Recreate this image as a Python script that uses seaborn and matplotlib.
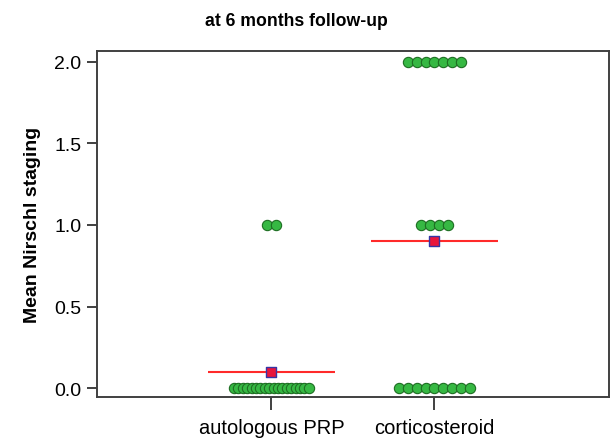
import numpy as np
import pandas as pd
import seaborn as sns
import matplotlib.pyplot as plt

# data: count of patients at each Nirschl stage
groups = ["autologous PRP", "corticosteroid"]
stages = [0.0, 1.0, 2.0]
prp_counts = [18, 2, 0]
cs_counts = [9, 4, 7]

yticks = [0.0, 0.5, 1.0, 1.5, 2.0]
title = "at 6 months follow-up"
ylabel = "Mean Nirschl staging"

# long table of individual scores
rows = []
for g, counts in zip(groups, [prp_counts, cs_counts]):
    for s, c in zip(stages, counts):
        rows += [(g, s)] * c
df = pd.DataFrame(rows, columns=["group", "score"])


def dot_offsets(n, step=0.055, max_span=0.46):
    # Minitab-like individual value plot: dots side by side, squeezed if too many
    if n < 2:
        return np.zeros(n)
    step = min(step, max_span / (n - 1))
    return (np.arange(n) - (n - 1) / 2) * step


df["xpos"] = df["group"].map({g: i for i, g in enumerate(groups)}).astype(float)
for (g, s), idx in df.groupby(["group", "score"]).groups.items():
    df.loc[idx, "xpos"] += dot_offsets(len(idx))

means = df.groupby("group", sort=False)["score"].mean()

sns.set_style("white")
plt.rcParams["font.family"] = ["Liberation Sans", "DejaVu Sans"]
plt.rcParams["text.color"] = "black"

fig = plt.figure(figsize=(6.13, 4.39), dpi=100)
ax = fig.add_axes([0.158, 0.0934, 0.8355, 0.7881])

sns.scatterplot(data=df, x="xpos", y="score", ax=ax, s=55, color="#36b843",
                edgecolor="#1d6e22", linewidth=0.8, legend=False, zorder=3)

for i, g in enumerate(groups):
    ax.hlines(means[g], i - 0.39, i + 0.39, color="#ff2a2a", linewidth=1.5, zorder=2)
sns.scatterplot(x=np.arange(len(groups)), y=means.values, ax=ax, marker="s", s=45,
                color="#e8163c", edgecolor="#3535a5", linewidth=1.0, legend=False, zorder=4)

ax.set_xlim(-1.07, 2.07)
ax.set_ylim(-0.055, 2.067)
ax.set_xticks(range(len(groups)))
ax.set_xticklabels(groups)
ax.set_yticks(yticks)
ax.set_yticklabels([f"{v:.1f}" for v in yticks])
ax.set_xlabel("")
ax.set_ylabel(ylabel, fontsize=14, fontweight="bold", labelpad=10, color="black")

for sp in ax.spines.values():
    sp.set_color("#404040")
    sp.set_linewidth(1.4)
ax.tick_params(axis="x", bottom=True, direction="out", length=9, width=1.4,
               color="#404040", labelsize=14.5, labelcolor="black", pad=6)
ax.tick_params(axis="y", left=True, direction="out", length=7, width=1.4,
               color="#404040", labelsize=14, labelcolor="black", pad=4)

fig.text(0.483, 0.95, title, ha="center", va="center", fontsize=12.7,
         fontweight="bold", color="black")

fig.savefig("out.png", dpi=100)
